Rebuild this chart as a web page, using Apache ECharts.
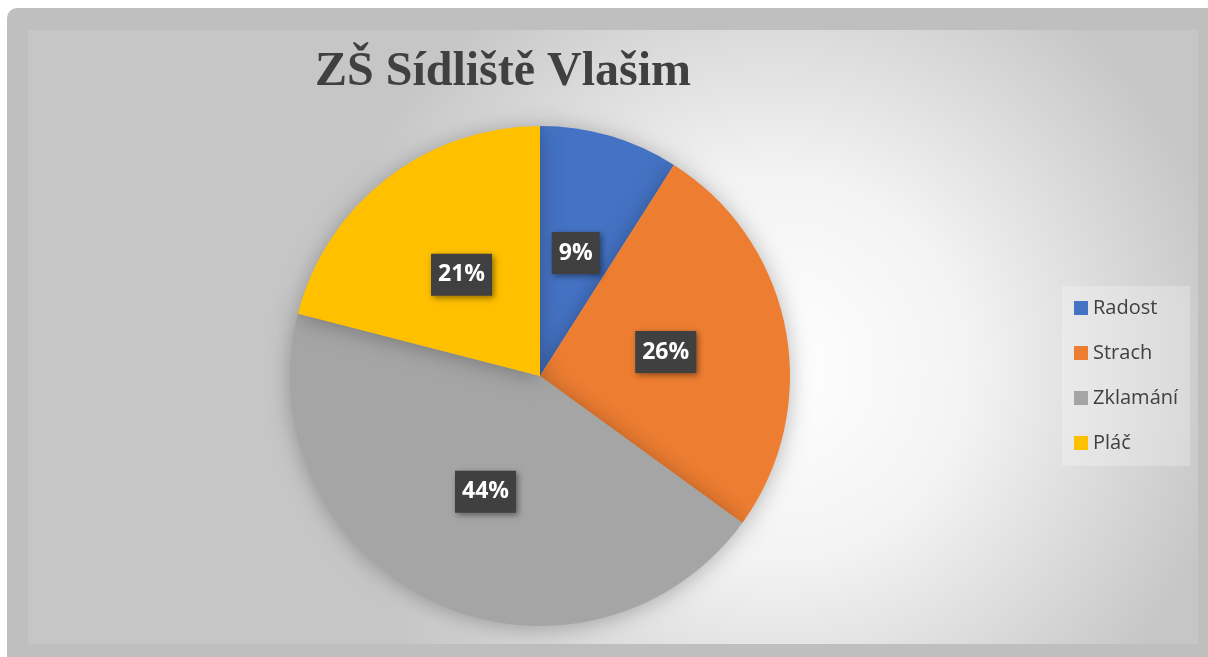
<!DOCTYPE html>
<html>
<head>
<meta charset="utf-8">
<script src="https://cdn.jsdelivr.net/npm/echarts@6/dist/echarts.min.js"></script>
<style>
  html, body { margin: 0; padding: 0; background: #fff; }
  #chart { width: 1208px; height: 657px; }
</style>
</head>
<body>
<div id="chart"></div>
<script>
const titleText = 'ZŠ Sídliště Vlašim';
const categories = ['Radost', 'Strach', 'Zklamání', 'Pláč'];
const values = [9, 26, 44, 21];
const colors = ['#4472c4', '#ed7d31', '#a5a5a5', '#ffc000'];

const myChart = echarts.init(document.getElementById('chart'));

const option = {
  backgroundColor: '#ffffff',
  animation: false,
  graphic: [
    {
      type: 'rect',
      z: -10,
      shape: { x: 7, y: 8, width: 1210, height: 660, r: [10, 0, 0, 0] },
      style: { fill: '#bfbfbf' }
    },
    {
      type: 'rect',
      z: -9,
      shape: { x: 28, y: 30, width: 1170, height: 614 },
      style: {
        fill: new echarts.graphic.RadialGradient(0.64, 0.55, 0.75, [
          { offset: 0, color: '#ffffff' },
          { offset: 0.42, color: '#f3f3f3' },
          { offset: 1, color: '#c6c6c6' }
        ])
      }
    }
  ],
  title: {
    text: titleText,
    left: 310,
    top: 44,
    textStyle: {
      fontFamily: 'Liberation Serif',
      fontWeight: 'bold',
      fontSize: 48,
      color: '#404040'
    }
  },
  legend: {
    data: categories,
    orient: 'vertical',
    left: 1062,
    top: 286,
    icon: 'rect',
    itemWidth: 14,
    itemHeight: 14,
    itemGap: 25,
    padding: [12, 12, 13, 12],
    backgroundColor: 'rgba(255,255,255,0.25)',
    textStyle: {
      fontFamily: 'Open Sans',
      fontSize: 20,
      lineHeight: 20,
      color: '#404040'
    }
  },
  series: [
    {
      type: 'pie',
      center: [540, 376],
      radius: [0, 250],
      startAngle: 90,
      clockwise: true,
      data: categories.map((name, i) => ({
        name: name,
        value: values[i],
        itemStyle: { color: colors[i] }
      })),
      itemStyle: {
        shadowBlur: 22,
        shadowColor: 'rgba(0,0,0,0.28)',
        shadowOffsetX: 0,
        shadowOffsetY: 2
      },
      label: {
        show: true,
        position: 'inside',
        formatter: '{d}%',
        fontFamily: 'Open Sans',
        fontWeight: 'bold',
        fontSize: 23,
        color: '#ffffff',
        backgroundColor: '#404040',
        padding: [10, 7, 9, 7],
        shadowBlur: 6,
        shadowColor: 'rgba(0,0,0,0.45)',
        shadowOffsetX: 2,
        shadowOffsetY: 2
      },
      labelLine: { show: false },
      emphasis: { scale: false }
    }
  ]
};

myChart.setOption(option, true);
window.addEventListener('resize', () => myChart.resize());
</script>
</body>
</html>
